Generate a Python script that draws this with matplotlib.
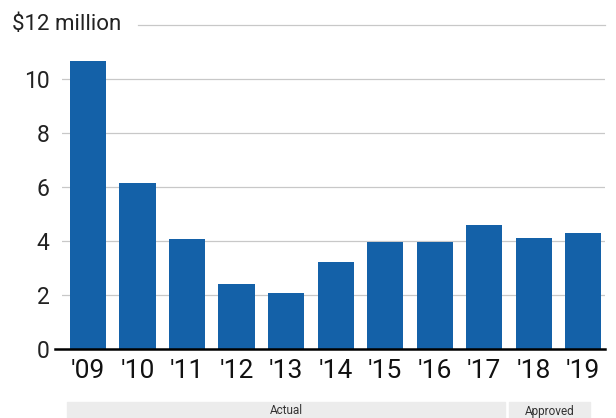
import matplotlib.pyplot as plt
from matplotlib.patches import Rectangle

plt.rcParams['font.family'] = ['Roboto', 'DejaVu Sans']

years = ["'09", "'10", "'11", "'12", "'13", "'14", "'15", "'16", "'17", "'18", "'19"]
values = [10.67, 6.15, 4.07, 2.41, 2.07, 3.22, 3.96, 3.96, 4.59, 4.11, 4.30]
yticks = [0, 2, 4, 6, 8, 10]
groups = ["Actual", "Approved"]

W, H = 616, 418
fig = plt.figure(figsize=(W / 100, H / 100), dpi=100)
ax = fig.add_axes([62 / W, (H - 349) / H, (605 - 62) / W, (349 - 25) / H])

x = list(range(len(years)))
ax.bar(x, values, width=0.73, color='#1461a8', zorder=3)

ax.set_xlim(-0.525, 10.44)
ax.set_ylim(0, 12)

# gridlines
for y in yticks[1:]:
    ax.axhline(y, color='#c8c8c8', lw=0.9, zorder=1)
ax.axhline(12, xmin=(138 - 62) / (605 - 62), color='#c8c8c8', lw=0.9, zorder=1, clip_on=False)
ax.axhline(0, xmin=-7 / (605 - 62), color='black', lw=1.8, zorder=4, clip_on=False)

for s in ax.spines.values():
    s.set_visible(False)

ax.set_yticks(yticks)
ax.set_yticklabels([str(v) for v in yticks], fontsize=16.5, color='#222222')
ax.tick_params(axis='y', length=0, pad=9)
ax.set_xticks(x)
ax.set_xticklabels(years, fontsize=19, color='#111111')
ax.tick_params(axis='x', length=0, pad=7)

fig.text(12 / W, 1 - 25 / H, "$12 million", fontsize=16, color='#222222', va='center', ha='left')

# group bands under the axis
bands = [(67, 505), (509, 590)]
for (x0, x1), label in zip(bands, groups):
    fig.patches.append(Rectangle((x0 / W, 0), (x1 - x0) / W, 16 / H,
                                 transform=fig.transFigure, color='#ececec', zorder=0))
    fig.text((x0 + x1) / 2 / W, 7 / H, label, fontsize=8.5, color='#333333',
             ha='center', va='center')

fig.savefig('out.png', dpi=100)
